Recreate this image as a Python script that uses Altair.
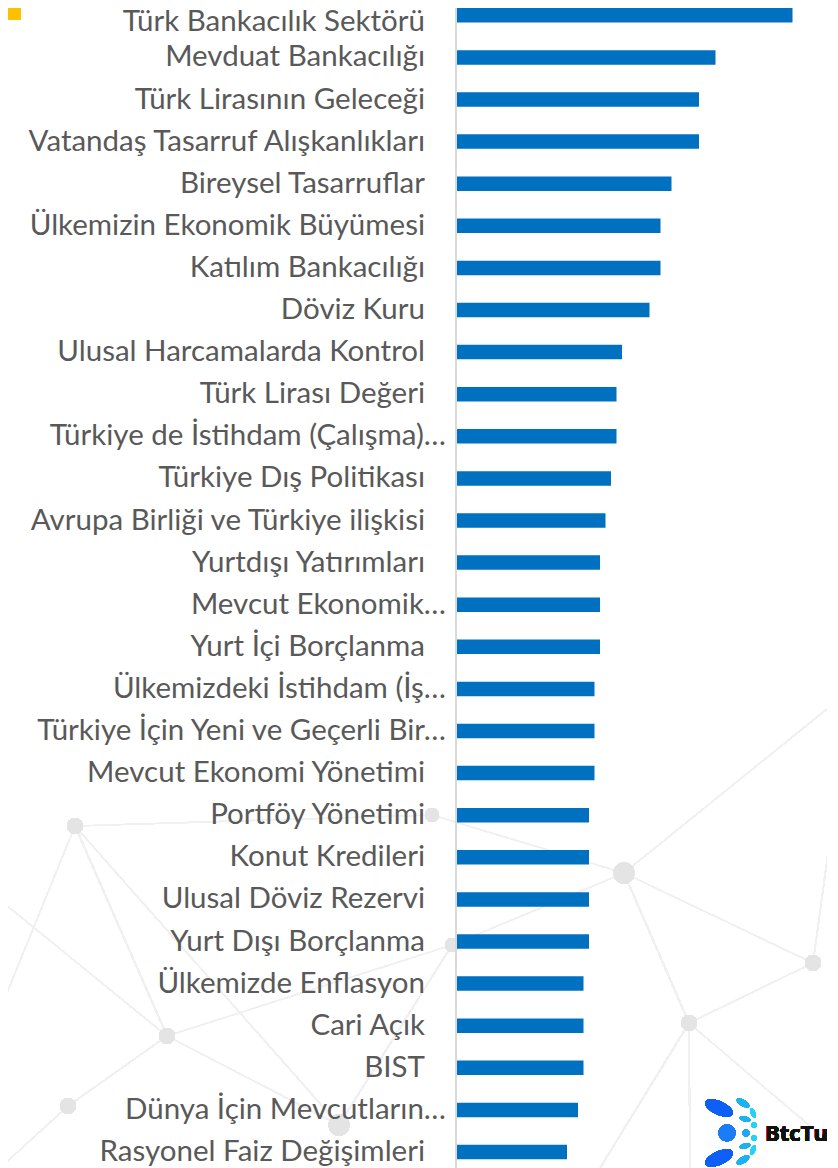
import altair as alt
import pandas as pd

categories = [
    "Türk Bankacılık Sektörü",
    "Mevduat Bankacılığı",
    "Türk Lirasının Geleceği",
    "Vatandaş Tasarruf Alışkanlıkları",
    "Bireysel Tasarruflar",
    "Ülkemizin Ekonomik Büyümesi",
    "Katılım Bankacılığı",
    "Döviz Kuru",
    "Ulusal Harcamalarda Kontrol",
    "Türk Lirası Değeri",
    "Türkiye de İstihdam (Çalışma)…",
    "Türkiye Dış Politikası",
    "Avrupa Birliği ve Türkiye ilişkisi",
    "Yurtdışı Yatırımları",
    "Mevcut Ekonomik…",
    "Yurt İçi Borçlanma",
    "Ülkemizdeki İstihdam (İş…",
    "Türkiye İçin Yeni ve Geçerli Bir…",
    "Mevcut Ekonomi Yönetimi",
    "Portföy Yönetimi",
    "Konut Kredileri",
    "Ulusal Döviz Rezervi",
    "Yurt Dışı Borçlanma",
    "Ülkemizde Enflasyon",
    "Cari Açık",
    "BIST",
    "Dünya İçin Mevcutların…",
    "Rasyonel Faiz Değişimleri",
]
values = [61, 47, 44, 44, 39, 37, 37, 35, 30, 29, 29, 28, 27, 26, 26, 26,
          25, 25, 25, 24, 24, 24, 24, 23, 23, 23, 22, 20]

df = pd.DataFrame({"topic": categories, "count": values,
                   "rank": list(range(1, len(categories) + 1))})

W, H = 370, 1160
STEP = 42.1
TOP = 7.3
OX, OY = 457, 8  # page position of the plot origin
ydom = [1 - TOP / STEP, 1 + (H - TOP) / STEP]
yenc = alt.Y("rank:Q", axis=None,
             scale=alt.Scale(domain=ydom, reverse=True, nice=False,
                             zero=False, padding=0))

base = alt.Chart(df)

# faint background network decoration
net_nodes = [(75, 826, 9), (432, 815, 8), (624, 873, 12), (452, 945, 8),
             (813, 963, 9), (689, 1023, 9), (167, 1036, 9), (68, 1106, 9),
             (339, 1125, 12)]
net_edges = [(75, 826, 167, 1036), (75, 826, 0, 1010), (75, 826, 339, 1125),
             (75, 826, 432, 815), (167, 1036, 452, 945), (452, 945, 624, 873),
             (624, 873, 813, 963), (624, 873, 689, 1023), (689, 1023, 813, 963),
             (432, 815, 624, 873), (68, 1106, 167, 1036), (689, 1023, 838, 1150),
             (689, 1023, 600, 1168), (813, 963, 838, 780), (624, 873, 838, 700),
             (167, 1036, 339, 1125), (68, 1106, 0, 1168), (339, 1125, 452, 945),
             (0, 900, 167, 1036), (689, 1023, 690, 1168)]

net_layers = []
for (x1, y1, x2, y2) in net_edges:
    net_layers.append(alt.Chart(df).mark_rule(color="#f0f0f0", strokeWidth=1.2).encode(
        x=alt.value(x1 - OX), y=alt.value(y1 - OY),
        x2=alt.value(x2 - OX), y2=alt.value(y2 - OY)))
for (x1, y1, r) in net_nodes:
    net_layers.append(alt.Chart(df).mark_point(filled=True, color="#e4e4e4",
                                               opacity=1, strokeWidth=0).encode(
        x=alt.value(x1 - OX), y=alt.value(y1 - OY), size=alt.value(r * r * 3.14)))

bars = base.mark_bar(color="#0070C0", orient="horizontal", height=14.5).encode(
    y=yenc,
    x=alt.X("count:Q", axis=None,
            scale=alt.Scale(domain=[0, W / 5.5], nice=False, zero=True,
                            padding=0)),
)

label_style = dict(align="right", baseline="middle", font="Lato",
                   fontSize=29.5, color="#595959")

labels_first = base.mark_text(dy=7, **label_style).encode(
    y=yenc, text="topic:N", x=alt.value(-32)
).transform_filter("datum.rank == 1")

labels_full = base.mark_text(**label_style).encode(
    y=yenc, text="topic:N", x=alt.value(-32)
).transform_filter("indexof(datum.topic, '…') < 0 && datum.rank > 1")

labels_cut = base.mark_text(**label_style).encode(
    y=yenc, text="topic:N", x=alt.value(-11)
).transform_filter("indexof(datum.topic, '…') >= 0")

axis_line = alt.Chart(df).mark_rule(color="#d9d9d9", strokeWidth=2).encode(
    x=alt.value(-1), y=alt.value(0), y2=alt.value(H)
)

yellow = alt.Chart(df).mark_rect(color="#FFC000").encode(
    x=alt.value(-449), x2=alt.value(-436), y=alt.value(0), y2=alt.value(12)
)

logo_text = alt.Chart(df).mark_text(
    text="BtcTu", align="left", baseline="alphabetic", font="Open Sans",
    fontSize=22, fontWeight="bold", color="#111111"
).encode(x=alt.value(765 - OX), y=alt.value(1141 - OY))

ELLIPSE = "M -1 0 A 1 0.45 0 1 0 1 0 A 1 0.45 0 1 0 -1 0 Z"


def dot(px, py, w, color, angle=0, shape=ELLIPSE):
    return alt.Chart(df).mark_point(filled=True, color=color, opacity=1,
                                    strokeWidth=0, shape=shape,
                                    angle=angle).encode(
        x=alt.value(px - OX), y=alt.value(py - OY), size=alt.value(w * w))


logo_dots = [
    dot(719, 1108, 30, "#0d5ff7", 25),
    dot(727, 1133, 17, "#1a7cf7", 0, "circle"),
    dot(719, 1158, 30, "#0d5ff7", 335),
    dot(743, 1103, 14, "#1cb2f2", 30),
    dot(745, 1119, 11, "#1cb2f2", 15),
    dot(746, 1133, 7, "#1fa8f2", 0, "circle"),
    dot(745, 1146, 11, "#1cb2f2", 345),
    dot(743, 1160, 14, "#1cb2f2", 330),
    dot(753, 1113, 10, "#22d2f8", 70),
    dot(754, 1125, 5, "#22d2f8", 0, "circle"),
    dot(754, 1138, 5, "#22d2f8", 0, "circle"),
    dot(753, 1150, 10, "#22d2f8", 110),
]

chart = alt.layer(*net_layers, axis_line, bars, labels_first, labels_full,
                  labels_cut, yellow, logo_text, *logo_dots).properties(
    width=W, height=H,
    autosize=alt.AutoSizeParams(type="none"),
    padding={"left": 449, "top": 0, "right": 0, "bottom": 0},
    background="#ffffff",
).configure_view(stroke=None)

chart.save("out.html", embed_options={"renderer": "svg", "actions": False})
